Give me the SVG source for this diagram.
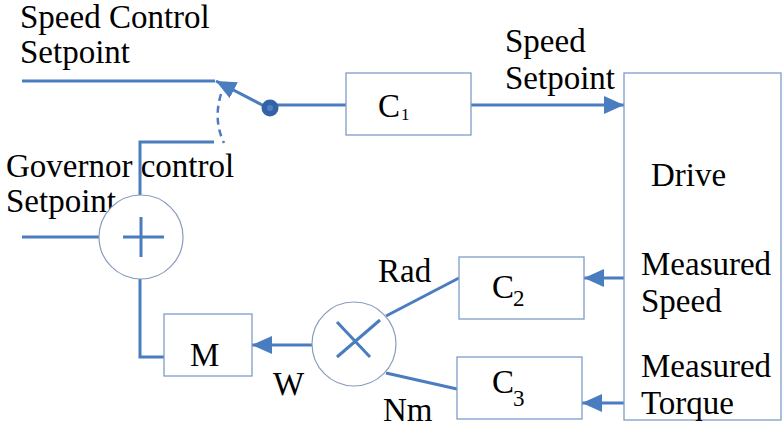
<svg xmlns="http://www.w3.org/2000/svg" width="783" height="428" viewBox="0 0 783 428">
<defs>
<style>
.t{font-family:"Liberation Serif","Times New Roman",serif;font-size:33px;fill:#000}
.sub{font-family:"Liberation Serif","Times New Roman",serif;fill:#000}
.box{fill:#fff;stroke:#7f9cc8;stroke-width:1.3}
.circ{fill:#fff;stroke:#8a9cbb;stroke-width:1.2}
.ln{fill:none;stroke:#4a7cc0;stroke-width:3}
.sym{fill:none;stroke:#4a7cc0;stroke-width:3}
</style>
<marker id="ah" markerWidth="20" markerHeight="18" refX="20" refY="9" orient="auto" markerUnits="userSpaceOnUse">
<path d="M0,0 L20,9 L0,18 Z" fill="#4a7cc0"/>
</marker>
</defs>
<rect width="783" height="428" fill="#fff"/>

<g id="labels">
<text class="t" x="20" y="28">Speed Control</text>
<text class="t" x="20" y="63">Setpoint</text>
<text class="t" x="6" y="177">Governor control</text>
<text class="t" x="6" y="212">Setpoint</text>
<text class="t" x="505" y="52">Speed</text>
<text class="t" x="505" y="89">Setpoint</text>
<text class="t" x="378" y="282">Rad</text>
<text class="t" x="273" y="395">W</text>
<text class="t" x="383" y="421">Nm</text>
</g>

<g id="connectors">
<line class="ln" x1="22" y1="81" x2="215" y2="81"/>
<line class="ln" x1="270" y1="109" x2="216" y2="81" marker-end="url(#ah)"/>
<path d="M221,94 Q213,120 224,143" fill="none" stroke="#4a7cc0" stroke-width="2.5" stroke-dasharray="7,5"/>
<line class="ln" x1="270" y1="105" x2="346" y2="105"/>
<line class="ln" x1="471" y1="105" x2="624" y2="105" marker-end="url(#ah)"/>
<polyline class="ln" points="214,142 140,142 140,195"/>
<line class="ln" x1="22" y1="237" x2="99" y2="237"/>
<polyline class="ln" points="140,279 140,357 164,357"/>
<line class="ln" x1="312" y1="345" x2="252" y2="345" marker-end="url(#ah)"/>
<line class="ln" x1="386" y1="316" x2="459" y2="278"/>
<line class="ln" x1="386" y1="373" x2="457" y2="389"/>
<line class="ln" x1="625" y1="278" x2="584" y2="278" marker-end="url(#ah)"/>
<line class="ln" x1="625" y1="403" x2="582" y2="403" marker-end="url(#ah)"/>
</g>

<g id="switch">
<circle cx="270" cy="108" r="8.5" fill="#3462a6"/>
<circle cx="270" cy="108" r="3" fill="#4f80c4"/>
</g>

<g id="C1">
<rect class="box" x="346" y="73" width="125" height="62"/>
<text class="t" x="378" y="117">C</text>
<text class="sub" x="401" y="120" font-size="17">1</text>
</g>

<g id="drive">
<rect class="box" x="624" y="73" width="157" height="347"/>
<text class="t" x="651" y="186">Drive</text>
<text class="t" x="641" y="275">Measured</text>
<text class="t" x="641" y="312">Speed</text>
<text class="t" x="641" y="377">Measured</text>
<text class="t" x="641" y="414">Torque</text>
</g>

<g id="C2">
<rect class="box" x="459" y="257" width="125" height="62"/>
<text class="t" x="492" y="298">C</text>
<text class="sub" x="513" y="306" font-size="23">2</text>
</g>

<g id="C3">
<rect class="box" x="457" y="357" width="125" height="62"/>
<text class="t" x="492" y="393">C</text>
<text class="sub" x="513" y="406" font-size="23">3</text>
</g>

<g id="sum">
<circle class="circ" cx="141" cy="237" r="42"/>
<line class="sym" x1="123" y1="237" x2="164" y2="237"/>
<line class="sym" x1="141" y1="217" x2="141" y2="257"/>
</g>

<g id="M">
<rect class="box" x="164" y="314" width="88" height="62"/>
<text class="t" x="190" y="366">M</text>
</g>

<g id="mult">
<circle class="circ" cx="354" cy="344" r="42"/>
<line class="sym" x1="337" y1="322" x2="370" y2="357"/>
<line class="sym" x1="380" y1="320" x2="337" y2="357"/>
</g>
</svg>
